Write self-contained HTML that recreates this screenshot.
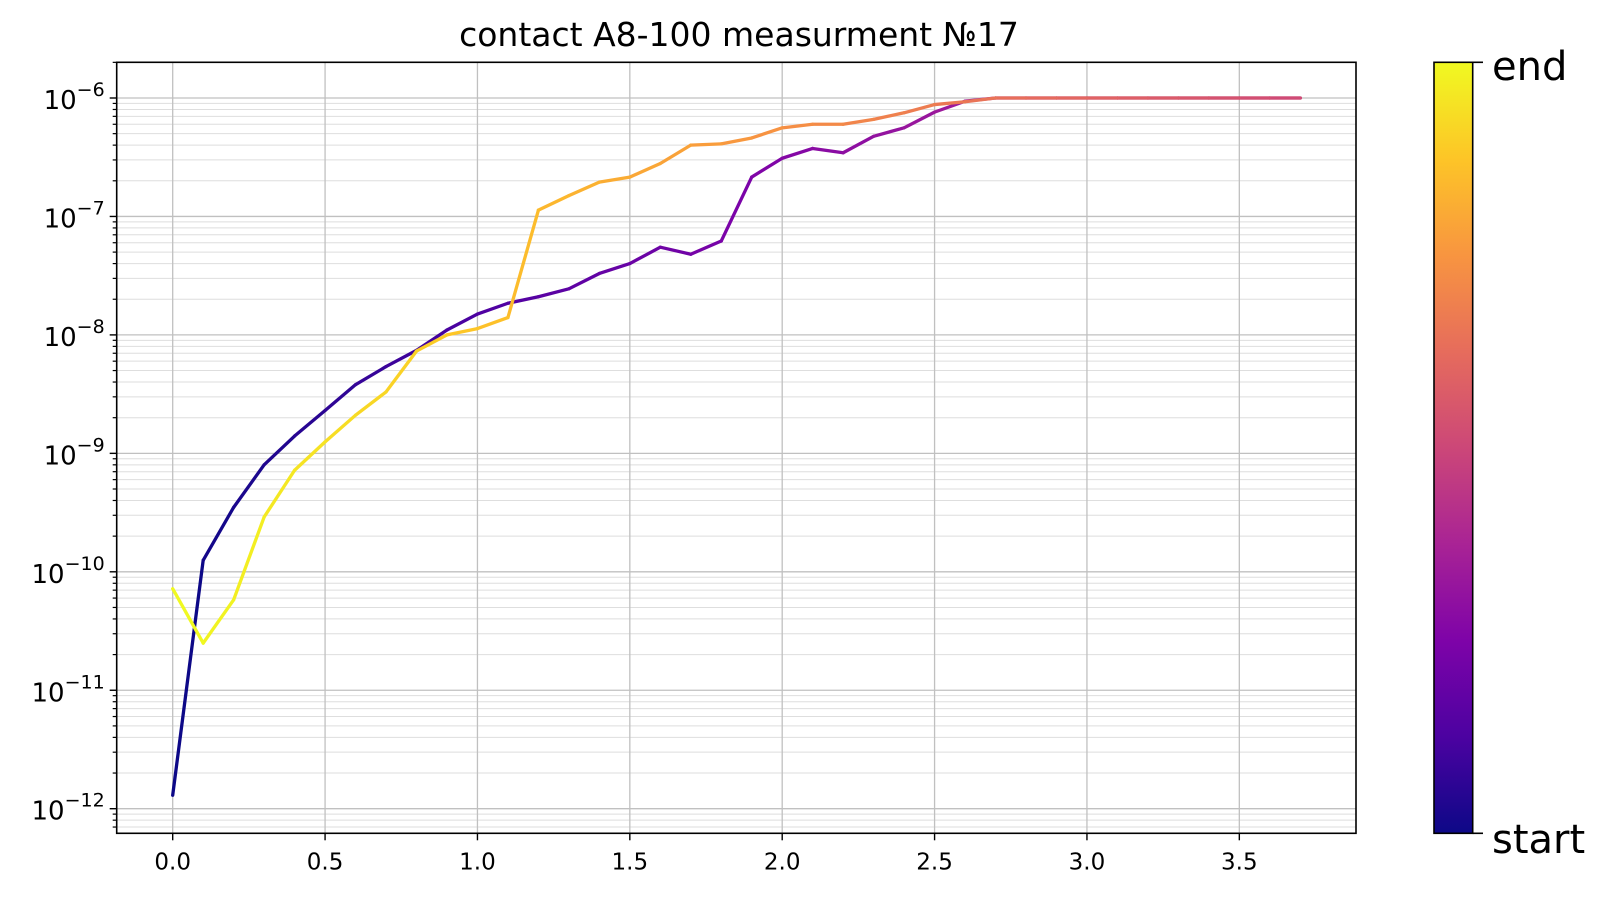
<!DOCTYPE html>
<html><head><meta charset="utf-8"><style>
html,body{margin:0;padding:0;background:#fff;}
svg{display:block;font-family:"DejaVu Sans","Liberation Sans",sans-serif;}
</style></head><body>
<svg id="chart" width="1609" height="900" viewBox="0 0 1609 900">
<defs>
<linearGradient id="cbar" x1="0" y1="1" x2="0" y2="0">
<stop offset="0" stop-color="#0d0887"/><stop offset="0.125" stop-color="#4c02a1"/><stop offset="0.25" stop-color="#7e03a8"/><stop offset="0.375" stop-color="#a92395"/><stop offset="0.5" stop-color="#cc4778"/><stop offset="0.625" stop-color="#e66c5c"/><stop offset="0.75" stop-color="#f89540"/><stop offset="0.875" stop-color="#fdc527"/><stop offset="1" stop-color="#f0f921"/>
</linearGradient>
</defs>
<text x="739" y="46" font-size="33" text-anchor="middle">contact A8-100 measurment №17</text>
<g id="grid"></g>
<g id="lines"></g>
<rect x="116.7" y="62.3" width="1239.3" height="771" fill="none" stroke="#000" stroke-width="1.6"/>
<g id="ticks"></g>
<rect x="1434" y="62.3" width="38.7" height="771" fill="url(#cbar)" stroke="#000" stroke-width="1.6"/>
<line x1="1472.7" y1="62.3" x2="1483" y2="62.3" stroke="#000" stroke-width="1.6"/>
<line x1="1472.7" y1="833.3" x2="1483" y2="833.3" stroke="#000" stroke-width="1.6"/>
<text x="1492" y="80" font-size="40">end</text>
<text x="1492" y="853" font-size="40">start</text>
</svg>
<script>
const xs=[0,0.1,0.2,0.3,0.4,0.5,0.6,0.7,0.8,0.9,1.0,1.1,1.2,1.3,1.4,1.5,1.6,1.7,1.8,1.9,2.0,2.1,2.2,2.3,2.4,2.5,2.6,2.7,2.8,2.9,3.0,3.1,3.2,3.3,3.4,3.5,3.6,3.7];
const forwardY=[1.3e-12,1.25e-10,3.5e-10,8e-10,1.4e-9,2.3e-9,3.8e-9,5.4e-9,7.4e-9,1.1e-8,1.5e-8,1.85e-8,2.1e-8,2.45e-8,3.3e-8,4e-8,5.5e-8,4.8e-8,6.2e-8,2.15e-7,3.1e-7,3.75e-7,3.45e-7,4.75e-7,5.6e-7,7.6e-7,9.4e-7,1e-6,1e-6,1e-6,1e-6,1e-6,1e-6,1e-6,1e-6,1e-6,1e-6,1e-6];
const backwardY=[7.2e-11,2.5e-11,5.8e-11,2.9e-10,7.2e-10,1.25e-9,2.1e-9,3.3e-9,7.3e-9,1e-8,1.13e-8,1.4e-8,1.13e-7,1.5e-7,1.95e-7,2.15e-7,2.8e-7,4e-7,4.1e-7,4.6e-7,5.6e-7,6e-7,6e-7,6.6e-7,7.5e-7,8.8e-7,9.3e-7,1e-6,1e-6,1e-6,1e-6,1e-6,1e-6,1e-6,1e-6,1e-6,1e-6,1e-6];
const xTicks=[0,0.5,1.0,1.5,2.0,2.5,3.0,3.5];
const yTickExps=[-6,-7,-8,-9,-10,-11,-12];

const NS="http://www.w3.org/2000/svg";
const X0=116.7,X1=1356,Y0=62.3,Y1=833.3;
const xScale=v=>172.7+v*304.75;
const yScale=v=>98+(-6-Math.log10(v))*118.45;
function mk(tag,attrs,parent){const e=document.createElementNS(NS,tag);for(const k in attrs)e.setAttribute(k,attrs[k]);parent.appendChild(e);return e;}
const grid=document.getElementById('grid'),ticks=document.getElementById('ticks'),lines=document.getElementById('lines');

for(let e=-13;e<=-6;e++){for(let m=2;m<=9;m++){const y=yScale(m*Math.pow(10,e));if(y<Y0||y>Y1)continue;
const g=mk('line',{x1:X0,x2:X1,y1:y,y2:y,stroke:'#dedede','stroke-width':1},grid);


mk('line',{x1:X0-4,x2:X0,y1:y,y2:y,stroke:'#000','stroke-width':1.2},ticks);}}
yTickExps.forEach(e=>{const y=yScale(Math.pow(10,e));
const g=mk('line',{x1:X0,x2:X1,y1:y,y2:y,stroke:'#c0c0c0','stroke-width':1.3},grid);


mk('line',{x1:X0-7,x2:X0,y1:y,y2:y,stroke:'#000','stroke-width':1.4},ticks);
const t=mk('text',{x:X0-12,y:y+11,'font-size':26,'text-anchor':'end'},ticks);


t.innerHTML='10<tspan font-size="19" dy="-13">\u2212'+(-e)+'</tspan>';});
xTicks.forEach(v=>{const x=xScale(v);
const g=mk('line',{x1:x,x2:x,y1:Y0,y2:Y1,stroke:'#c0c0c0','stroke-width':1.3},grid);


mk('line',{x1:x,x2:x,y1:Y1,y2:Y1+7,stroke:'#000','stroke-width':1.4},ticks);
const t=mk('text',{x:x,y:Y1+36,'font-size':23,'text-anchor':'middle'},ticks);


t.textContent=v.toFixed(1);});

const stops=[[13,8,135],[76,2,161],[126,3,168],[169,35,149],[204,71,120],[230,108,92],[248,149,64],[253,197,39],[240,249,33]];
function plasma(t){const p=t*8,i=Math.min(7,Math.floor(p)),f=p-i,a=stops[i],b=stops[i+1];return 'rgb('+a.map((c,k)=>Math.round(c+(b[k]-c)*f)).join(',')+')';}
const px=xs.concat(xs.slice().reverse());
const py=forwardY.concat(backwardY.slice().reverse());
const n=px.length;
for(let i=0;i<n-1;i++){
const l=mk('line',{x1:xScale(px[i]),y1:yScale(py[i]),x2:xScale(px[i+1]),y2:yScale(py[i+1]),stroke:plasma(i/(n-2)),'stroke-width':3.3,'stroke-linecap':'round'},lines);

}
</script>
</body></html>
